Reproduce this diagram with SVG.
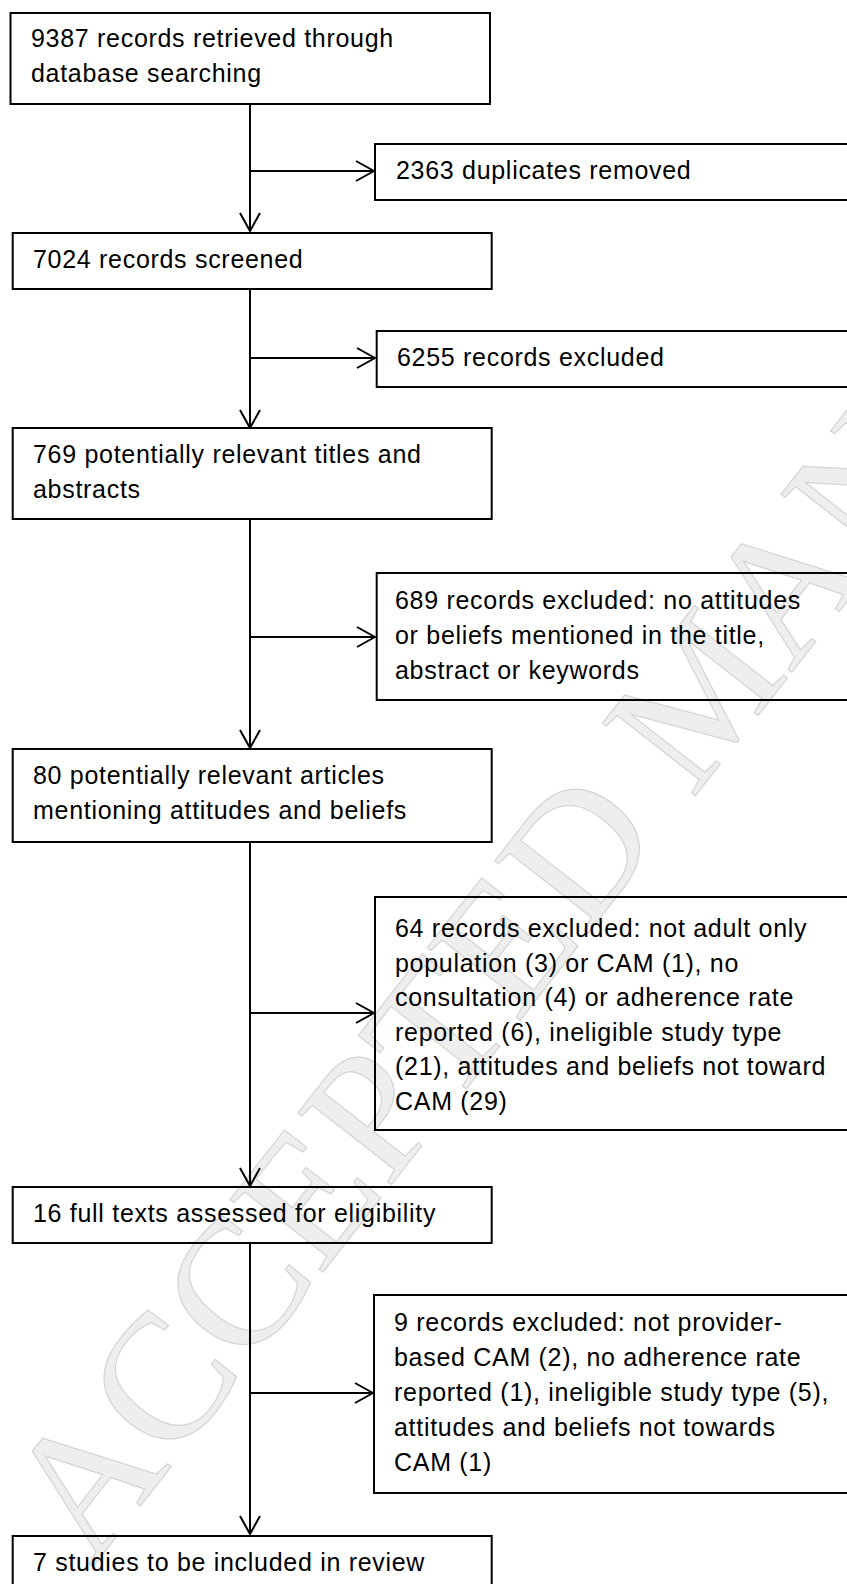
<svg xmlns="http://www.w3.org/2000/svg" width="847" height="1584" viewBox="0 0 847 1584">
<style>
.box{fill:none;stroke:#000;stroke-width:2}
.t{font-family:"Liberation Sans",Arial,sans-serif;font-size:25px;letter-spacing:0.7px;fill:#000}
.c{fill:none;stroke:#000;stroke-width:2}
.wm{font-family:"Liberation Serif","Times New Roman",serif;font-size:180px;fill:#eeeeee;stroke:#d4d4d4;stroke-width:1.2}
</style>
<defs>
<marker id="ah" viewBox="0 0 20 24" refX="19" refY="12" markerWidth="20" markerHeight="24" markerUnits="userSpaceOnUse" orient="auto">
<path d="M1,2 L19,12 L1,22" fill="none" stroke="#000" stroke-width="2"/>
</marker>
</defs>
<rect width="847" height="1584" fill="#fff"/>
<g id="watermark">
<text class="wm" transform="translate(92,1568) rotate(-52)">ACCEPTED MANU</text>
</g>
<g id="connectors">
<path class="c" d="M250,104 V231" marker-end="url(#ah)"/>
<path class="c" d="M250,289 V428" marker-end="url(#ah)"/>
<path class="c" d="M250,519 V748" marker-end="url(#ah)"/>
<path class="c" d="M250,842 V1186" marker-end="url(#ah)"/>
<path class="c" d="M250,1243 V1534" marker-end="url(#ah)"/>
<path class="c" d="M250,171 H374" marker-end="url(#ah)"/>
<path class="c" d="M250,358 H375" marker-end="url(#ah)"/>
<path class="c" d="M250,637 H375" marker-end="url(#ah)"/>
<path class="c" d="M250,1013 H374" marker-end="url(#ah)"/>
<path class="c" d="M250,1393 H373" marker-end="url(#ah)"/>
</g>
<g id="n1">
<rect class="box" x="10.5" y="13" width="479.5" height="91"/>
<text class="t" x="31" y="47">9387 records retrieved through</text>
<text class="t" x="31" y="82">database searching</text>
</g>
<g id="n2">
<rect class="box" x="375" y="144" width="500" height="56"/>
<text class="t" x="396" y="179">2363 duplicates removed</text>
</g>
<g id="n3">
<rect class="box" x="12.7" y="233" width="479" height="56"/>
<text class="t" x="33" y="268">7024 records screened</text>
</g>
<g id="n4">
<rect class="box" x="376.7" y="331" width="500" height="56"/>
<text class="t" x="397" y="366">6255 records excluded</text>
</g>
<g id="n5">
<rect class="box" x="12.7" y="428" width="479" height="91"/>
<text class="t" x="33" y="463">769 potentially relevant titles and</text>
<text class="t" x="33" y="498">abstracts</text>
</g>
<g id="n6">
<rect class="box" x="376.7" y="573" width="500" height="127"/>
<text class="t" x="395" y="609">689 records excluded: no attitudes</text>
<text class="t" x="395" y="644">or beliefs mentioned in the title,</text>
<text class="t" x="395" y="679">abstract or keywords</text>
</g>
<g id="n7">
<rect class="box" x="12.7" y="749" width="479" height="93"/>
<text class="t" x="33" y="784">80 potentially relevant articles</text>
<text class="t" x="33" y="819">mentioning attitudes and beliefs</text>
</g>
<g id="n8">
<rect class="box" x="375" y="897" width="500" height="233"/>
<text class="t" x="395" y="937">64 records excluded: not adult only</text>
<text class="t" x="395" y="971.5">population (3) or CAM (1), no</text>
<text class="t" x="395" y="1006">consultation (4) or adherence rate</text>
<text class="t" x="395" y="1040.5">reported (6), ineligible study type</text>
<text class="t" x="395" y="1075">(21), attitudes and beliefs not toward</text>
<text class="t" x="395" y="1109.5">CAM (29)</text>
</g>
<g id="n9">
<rect class="box" x="12.7" y="1187" width="479" height="56"/>
<text class="t" x="33" y="1222">16 full texts assessed for eligibility</text>
</g>
<g id="n10">
<rect class="box" x="374" y="1295" width="500" height="198"/>
<text class="t" x="394" y="1331">9 records excluded: not provider-</text>
<text class="t" x="394" y="1366">based CAM (2), no adherence rate</text>
<text class="t" x="394" y="1401">reported (1), ineligible study type (5),</text>
<text class="t" x="394" y="1436">attitudes and beliefs not towards</text>
<text class="t" x="394" y="1471">CAM (1)</text>
</g>
<g id="n11">
<rect class="box" x="12.7" y="1536" width="479" height="80"/>
<text class="t" x="33" y="1571">7 studies to be included in review</text>
</g>
</svg>
